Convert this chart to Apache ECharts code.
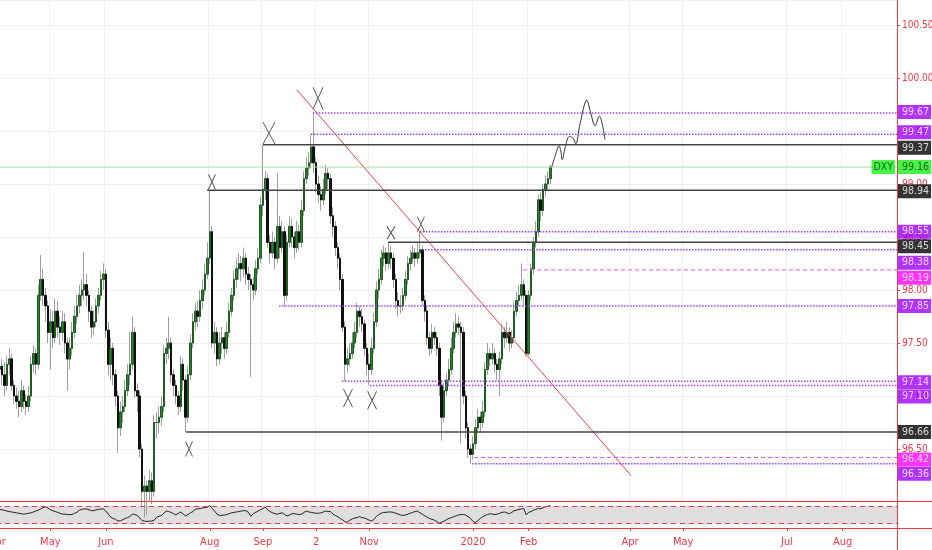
<!DOCTYPE html>
<html>
<head>
<meta charset="utf-8">
<script src="https://cdn.jsdelivr.net/npm/echarts@6/dist/echarts.min.js"></script>
<style>
html, body { margin: 0; padding: 0; background: #fff; }
#chart { width: 932px; height: 550px; }
</style>
</head>
<body>
<div id="chart"></div>
<script>
// DXY daily, Apr 2019 - mid Feb 2020, one row per day: [open, close, low, high]
var candles = [
  [97.2,97.25,97.05,97.4],[97.25,97.28,97.15,97.45],[97.28,97.2,97.1,97.35],[97.2,97.1,97.0,97.32],[97.1,97.3,97.05,97.38],
  [97.3,97.35,97.2,97.45],[97.35,97.1,97.05,97.4],[97.1,97.0,96.92,97.15],[97.0,96.95,96.88,97.08],[96.95,96.9,96.8,97.05],
  [96.9,97.05,96.85,97.15],[97.05,96.95,96.88,97.1],[96.95,96.9,96.82,97.02],[96.9,97.0,96.85,97.1],[97.0,97.3,96.95,97.38],
  [97.3,97.4,97.22,97.48],[97.4,97.3,97.2,97.45],[97.3,97.95,97.25,98.05],[97.95,98.1,97.9,98.33],[98.1,97.95,97.85,98.2],
  [97.95,97.85,97.7,98.02],[97.85,97.6,97.5,97.9],[97.6,97.7,97.25,97.82],[97.7,97.55,97.45,97.8],[97.55,97.8,97.5,97.92],
  [97.8,97.65,97.55,97.9],[97.65,97.6,97.48,97.75],[97.6,97.7,97.52,97.8],[97.7,97.5,97.4,97.78],[97.5,97.35,97.05,97.55],
  [97.35,97.45,97.25,97.55],[97.45,97.6,97.38,97.7],[97.6,97.75,97.55,97.85],[97.75,97.85,97.68,97.95],[97.85,97.95,97.78,98.05],
  [97.95,98.0,97.85,98.1],[98.0,98.05,97.9,98.36],[98.05,97.95,97.85,98.15],[97.95,97.8,97.7,98.0],[97.8,97.65,97.55,97.85],
  [97.65,97.7,97.58,97.8],[97.7,97.85,97.65,97.92],[97.85,97.95,97.78,98.02],[97.95,98.1,97.9,98.18],[98.1,98.15,98.0,98.25],
  [98.15,97.62,97.55,98.2],[97.62,97.3,97.2,97.7],[97.3,97.45,97.15,97.55],[97.45,97.2,97.1,97.5],[97.2,97.0,96.9,97.25],
  [97.0,96.7,96.46,97.05],[96.7,96.85,96.62,96.95],[96.85,96.9,96.75,97.0],[96.9,97.05,96.85,97.15],[97.05,97.2,97.0,97.3],
  [97.2,97.3,97.1,97.6],[97.3,97.6,97.25,97.75],[97.6,97.05,96.98,97.65],[97.05,97.0,96.85,97.12],[97.0,96.5,96.42,97.05],
  [96.5,96.1,95.95,96.55],[96.1,96.15,95.85,96.25],[96.15,96.1,95.88,96.2],[96.1,96.2,96.0,96.3],[96.2,96.1,95.98,96.28],
  [96.1,96.75,96.05,96.82],[96.75,96.75,96.6,96.85],[96.75,96.8,96.65,96.9],[96.8,96.9,96.72,97.0],[96.9,97.4,96.85,97.48],
  [97.4,97.45,97.3,97.55],[97.45,97.5,97.35,97.75],[97.5,97.2,97.12,97.55],[97.2,97.1,97.0,97.25],[97.1,97.0,96.92,97.15],
  [97.0,96.9,96.82,97.05],[96.9,97.3,96.85,97.38],[97.3,97.15,97.05,97.35],[97.15,96.8,96.66,97.2],[96.8,97.2,96.75,97.28],
  [97.2,97.5,97.15,97.58],[97.5,97.7,97.45,97.78],[97.7,97.8,97.62,97.88],[97.8,97.75,97.65,97.9],[97.75,97.9,97.7,98.0],
  [97.9,98.0,97.82,98.1],[98.0,98.15,97.95,98.25],[98.15,98.3,98.1,98.45],[98.3,98.55,98.25,98.94],[98.55,97.5,97.45,98.6],
  [97.5,97.6,97.4,97.7],[97.6,97.35,97.28,97.65],[97.35,97.5,97.3,97.6],[97.5,97.55,97.4,97.65],[97.55,97.45,97.35,97.6],
  [97.45,97.6,97.4,97.7],[97.6,97.8,97.55,97.88],[97.8,97.95,97.75,98.02],[97.95,98.1,97.9,98.18],[98.1,98.2,98.02,98.3],
  [98.2,98.25,98.1,98.35],[98.25,98.2,98.08,98.32],[98.2,98.3,98.12,98.4],[98.3,98.15,98.05,98.35],[98.15,98.1,98.0,98.22],
  [98.1,98.05,97.18,98.15],[98.05,98.0,97.9,98.12],[98.0,98.2,97.95,98.28],[98.2,98.3,98.15,98.4],[98.3,98.8,98.25,98.88],
  [98.8,98.95,98.7,99.37],[98.95,99.05,98.85,99.12],[99.05,98.45,98.4,99.1],[98.45,98.35,98.25,98.52],[98.35,98.45,98.3,98.55],
  [98.45,98.3,98.2,98.5],[98.3,98.6,98.25,99.1],[98.6,98.4,98.3,98.7],[98.4,98.55,98.35,98.65],[98.55,97.95,97.85,98.6],
  [97.95,98.45,97.9,98.52],[98.45,98.6,98.4,98.7],[98.6,98.5,98.4,98.68],[98.5,98.4,98.3,98.55],[98.4,98.55,98.35,98.65],
  [98.55,98.45,98.38,98.62],[98.45,98.75,98.4,98.85],[98.75,99.05,98.7,99.12],[99.05,99.15,99.0,99.25],[99.15,99.2,99.08,99.3],
  [99.2,99.35,99.15,99.47],[99.35,99.2,99.1,99.67],[99.2,99.0,98.92,99.25],[99.0,98.9,98.82,99.08],[98.9,98.85,98.75,98.98],
  [98.85,98.95,98.8,99.05],[98.95,99.1,98.9,99.18],[99.1,99.05,98.95,99.15],[99.05,98.7,98.62,99.1],[98.7,98.6,98.5,98.78],
  [98.6,98.4,98.32,98.65],[98.4,98.3,98.2,98.45],[98.3,98.1,98.0,98.35],[98.1,97.65,97.6,98.15],[97.65,97.3,97.14,97.7],
  [97.3,97.35,97.22,97.45],[97.35,97.4,97.28,97.5],[97.4,97.5,97.35,97.6],[97.5,97.6,97.45,97.7],[97.6,97.8,97.55,97.88],
  [97.8,97.75,97.65,97.85],[97.75,97.68,97.6,97.82],[97.68,97.45,97.38,97.72],[97.45,97.3,97.2,97.5],[97.3,97.25,97.1,97.4],
  [97.25,97.45,97.2,97.55],[97.45,97.7,97.4,97.78],[97.7,98.0,97.65,98.08],[98.0,98.1,97.92,98.2],[98.1,98.3,98.05,98.38],
  [98.3,98.35,98.22,98.42],[98.35,98.25,98.18,98.4],[98.25,98.35,98.2,98.45],[98.35,98.3,98.2,98.42],[98.3,98.1,98.02,98.35],
  [98.1,97.9,97.82,98.15],[97.9,97.85,97.75,97.98],[97.85,97.85,97.78,97.95],[97.85,97.95,97.8,98.02],[97.95,98.1,97.9,98.18],
  [98.1,98.25,98.05,98.32],[98.25,98.3,98.18,98.38],[98.3,98.35,98.25,98.42],[98.35,98.3,98.22,98.4],[98.3,98.35,98.25,98.45],
  [98.35,98.38,98.3,98.55],[98.38,97.9,97.85,98.42],[97.9,97.8,97.7,97.95],[97.8,97.55,97.48,97.85],[97.55,97.45,97.38,97.6],
  [97.45,97.6,97.4,97.68],[97.6,97.55,97.48,97.65],[97.55,97.45,97.38,97.6],[97.45,97.1,97.0,97.5],[97.1,96.8,96.58,97.15],
  [96.8,97.05,96.75,97.12],[97.05,97.15,97.0,97.22],[97.15,97.25,97.1,97.35],[97.25,97.45,97.2,97.55],[97.45,97.6,97.4,97.7],
  [97.6,97.68,97.55,97.78],[97.68,97.65,97.58,97.75],[97.65,97.6,96.55,97.7],[97.6,97.0,96.92,97.65],[97.0,96.7,96.6,97.05],
  [96.7,96.5,96.42,96.75],[96.5,96.45,96.36,96.55],[96.45,96.55,96.4,96.62],[96.55,96.7,96.5,96.78],[96.7,96.8,96.65,96.88],
  [96.8,96.75,96.65,96.85],[96.75,96.85,96.7,96.95],[96.85,97.25,96.8,97.32],[97.25,97.4,97.2,97.5],[97.4,97.35,97.28,97.45],
  [97.35,97.4,97.3,97.5],[97.4,97.3,97.22,97.45],[97.3,97.25,97.15,97.35],[97.25,97.35,97.0,97.42],[97.35,97.6,97.3,97.68],
  [97.6,97.55,97.45,97.65],[97.55,97.6,97.5,97.7],[97.6,97.5,97.42,97.65],[97.5,97.55,97.45,97.62],[97.55,97.8,97.5,97.88],
  [97.8,97.9,97.75,97.98],[97.9,97.95,97.85,98.05],[97.95,98.05,97.9,98.25],[98.05,97.95,97.85,98.1],[97.95,97.4,97.37,98.0],
  [97.4,97.95,97.38,98.0],[97.95,98.2,97.9,98.25],[98.2,98.45,98.15,98.5],[98.45,98.55,98.4,98.65],[98.55,98.85,98.5,98.9],
  [98.85,98.75,98.65,98.92],[98.75,98.95,98.7,99.0],[98.95,99.0,98.88,99.08],[99.0,99.05,98.95,99.12],[99.05,99.16,99.0,99.18]
];

var rsi = [
  63,63,62,61,59,58,57,56,55,54, 53,52,53,54,55,57,59,61,64,67,
  69,66,62,60,58,56,54,52,52,51, 51,51,54,56,61,63,64,64,62,60,
  60,62,63,64,64,59,52,45,42,40, 36,37,39,42,44,47,52,51,49,43,
  37,36,35,36,36,38,45,47,49,54, 59,58,56,53,50,54,57,52,48,51,
  55,58,63,64,65,66,67,68,72,65, 59,52,49,49,50,51,53,55,56,57,
  58,59,60,60,56,47,53,56,59,62, 65,68,62,58,55,53,52,54,55,51,
  48,50,53,53,52,51,52,56,59,57, 56,55,54,54,55,57,59,58,58,52,
  49,46,42,39,34,34,38,41,43,44, 46,44,43,41,38,36,40,47,51,54,
  56,56,57,57,56,54,52,50,49,50, 52,54,56,58,59,55,52,48,45,42,
  40,38,35,31,33,36,39,42,44,46, 48,50,51,51,50,46,42,35,33,37,
  42,46,49,51,53,52,51,52,54,56, 57,55,53,56,60,61,63,64,65,50,
  56,58,61,63,65,64,67,69,70,72
];

// day slots on the time axis (history + empty future space)
var slotCount = 373;
var tickLabels = [[0,'Apr'],[22,'May'],[45,'Jun'],[88,'Aug'],[110,'Sep'],[132,'2'],[154,'Nov'],
                  [197,'2020'],[220,'Feb'],[262,'Apr'],[284,'May'],[327,'Jul'],[350,'Aug']];

// drawn horizontal levels: price, day where the line starts, kind
var levelPrices = [99.67, 99.47, 99.37, 98.94, 98.55, 98.45, 98.38, 98.19, 97.85, 97.14, 97.10, 96.66, 96.42, 96.36];
var levelStarts = [130.7, 129.9, 110, 86.9, 175, 161.8, 175.9, 217.7, 116.7, 142.7, 154.3, 78.2, 197.4, 196.6];
var levelKinds  = ['purple','purple','black','black','purple','black','purple','pink','purple','purple','purple','black','pink','purple'];
var lastPrice = 99.16;

// other drawings: falling trend line, hand-drawn projection, X marks
var trendLine = [[124.0, 99.89], [262.4, 96.25]];
var projection = [[229.6,99.16],[230.9,99.26],[232.6,99.36],[233.4,99.30],[233.9,99.23],[235.1,99.34],[236.9,99.45],
                  [238.5,99.43],[239.5,99.38],[241.3,99.57],[244.1,99.79],[245.7,99.67],[247.5,99.55],[249.3,99.64],
                  [250.7,99.54],[251.6,99.42]];
var xMarks = [[88.9,99.02],[112.5,99.48],[132.8,99.81],[79.4,96.50],[145.2,96.98],[155.2,96.96],[163.0,98.54],[175.4,98.62]];

// layout: symbol sizes of the X marks, vertical nudge of price tags so they do not overlap
var xMarkSizes = [[7,15],[12,22],[10,22],[7,15],[9,18],[9,18],[8,13],[7,15]];
var tagShift = [-1, -2, 3, 1, 0, 4, 13, 8, 0, 1, 11, 0, 2, 10];

var red = '#f23645';
var narrow = "'DejaVu Sans Condensed', 'Liberation Sans Narrow', sans-serif";
var kindStyle = {
  purple: { line: '#a33cf2', tag: '#9c00ff', type: [1.5, 1.5], width: 1.5 },
  black:  { line: '#444444', tag: '#000000', type: 'solid', width: 1.5 },
  pink:   { line: '#ee55ee', tag: '#ff00ff', type: [4, 3], width: 1 }
};

var labelAt = {};
tickLabels.forEach(function (t) { labelAt[t[0]] = t[1]; });
var slots = [];
for (var i = 0; i < slotCount; i++) slots.push(String(i));
var showTick = function (idx) { return labelAt[idx] !== undefined; };
var rightEdge = slotCount - 0.5;

var bodies = candles.map(function (c) {
  return [c[0], c[1], Math.min(c[0], c[1]), Math.max(c[0], c[1])];
});

function tagLabel(bg, fg, dy) {
  return { show: true, position: 'right', distance: 1, offset: [0, dy], backgroundColor: bg, color: fg,
           fontFamily: narrow, fontSize: 10.5, padding: [2, 2, 1, 4] };
}

var series = [
  {
    type: 'candlestick', xAxisIndex: 0, yAxisIndex: 0, data: candles, barWidth: 2,
    itemStyle: { color: '#9e9e9e', color0: '#9e9e9e', borderColor: '#9e9e9e', borderColor0: '#9e9e9e', borderWidth: 1 }
  },
  {
    type: 'candlestick', xAxisIndex: 0, yAxisIndex: 0, data: bodies, barWidth: 2,
    itemStyle: { color: '#2e7d32', color0: '#111111', borderColor: '#1b5e20', borderColor0: '#111111', borderWidth: 1 }
  },
  {
    type: 'line', xAxisIndex: 1, yAxisIndex: 0, symbol: 'none',
    data: [[-0.5, lastPrice], [rightEdge, lastPrice]],
    lineStyle: { color: '#9fe39f', width: 1 }
  },
  {
    type: 'line', xAxisIndex: 1, yAxisIndex: 0, symbol: 'none', data: trendLine,
    lineStyle: { color: '#f0404a', width: 1 }
  },
  {
    type: 'line', xAxisIndex: 1, yAxisIndex: 0, symbol: 'none', smooth: 0.35, data: projection,
    lineStyle: { color: '#333', width: 1 }
  },
  {
    type: 'scatter', xAxisIndex: 1, yAxisIndex: 0,
    symbol: 'path://M0,0L10,20M10,0L0,20', symbolKeepAspect: false,
    data: xMarks.map(function (m, k) { return { value: m, symbolSize: xMarkSizes[k] }; }),
    itemStyle: { color: 'rgba(0,0,0,0)', borderColor: '#222', borderWidth: 1 }
  },
  {
    type: 'line', xAxisIndex: 2, yAxisIndex: 1, symbol: 'none', data: rsi,
    lineStyle: { color: '#222', width: 1 },
    markArea: { silent: true, itemStyle: { color: 'rgba(195,195,195,0.55)' }, data: [[{ yAxis: 30 }, { yAxis: 70 }]] },
    markLine: { silent: true, symbol: 'none', label: { show: false },
                lineStyle: { color: red, type: [5, 4], width: 1 }, data: [{ yAxis: 30 }, { yAxis: 70 }] }
  }
];

levelPrices.forEach(function (p, k) {
  var st = kindStyle[levelKinds[k]];
  series.push({
    type: 'line', xAxisIndex: 1, yAxisIndex: 0, symbol: 'none', z: 4,
    data: [[levelStarts[k], p], [rightEdge, p]],
    lineStyle: { color: st.line, width: st.width, type: st.type }
  });
});

// price tags on the axis
var tagData = levelPrices.map(function (p, k) {
  var st = kindStyle[levelKinds[k]];
  return { value: [rightEdge, p], label: Object.assign(tagLabel(st.tag, '#fff', tagShift[k]), { formatter: p.toFixed(2) }) };
});
tagData.push({ value: [rightEdge, lastPrice], label: Object.assign(tagLabel('#19f019', '#0d3d0d', 0), { formatter: lastPrice.toFixed(2) }) });
var dxy = tagLabel('#19f019', '#0d3d0d', 0);
dxy.position = 'left'; dxy.distance = 2; dxy.formatter = 'DXY'; dxy.padding = [2, 2, 1, 2];
tagData.push({ value: [rightEdge, lastPrice], label: dxy });
series.push({ type: 'scatter', xAxisIndex: 1, yAxisIndex: 0, symbolSize: 0, z: 20, data: tagData });

var chart = echarts.init(document.getElementById('chart'));
var option = {
  animation: false,
  backgroundColor: '#fff',
  grid: [
    { left: -4, right: 35, top: 0, height: 502, outerBoundsMode: 'none', containLabel: false },
    { left: -4, right: 35, top: 502, height: 26, outerBoundsMode: 'none', containLabel: false }
  ],
  xAxis: [
    { type: 'category', gridIndex: 0, data: slots, boundaryGap: true,
      axisLine: { show: false, onZero: false }, axisTick: { show: false }, axisLabel: { show: false },
      splitLine: { show: true, interval: showTick, lineStyle: { color: '#eef0f4' } } },
    { type: 'value', gridIndex: 0, min: -0.5, max: rightEdge, show: false, axisLine: { onZero: false } },
    { type: 'category', gridIndex: 1, data: slots, boundaryGap: true,
      axisLine: { show: false, onZero: false },
      axisTick: { show: true, interval: showTick, alignWithLabel: true, length: 3, lineStyle: { color: red } },
      axisLabel: { interval: showTick, formatter: function (v, idx) { return labelAt[idx] || ''; },
                   color: red, fontSize: 11, fontFamily: narrow, margin: 9 },
      splitLine: { show: false } }
  ],
  yAxis: [
    { type: 'value', gridIndex: 0, position: 'right', min: 96, max: 100.736, interval: 0.5,
      axisLine: { show: false, onZero: false },
      axisTick: { show: true, length: 3, lineStyle: { color: red } },
      axisLabel: { color: red, fontSize: 10, fontFamily: narrow, margin: 5, showMinLabel: false, showMaxLabel: false,
                   formatter: function (v) { return v.toFixed(2); } },
      splitLine: { show: true, lineStyle: { color: '#eef0f4' } } },
    { type: 'value', gridIndex: 1, position: 'right', min: 20, max: 80, show: false, axisLine: { onZero: false } }
  ],
  graphic: [
    { type: 'line', z: 100, shape: { x1: 897.5, y1: 0, x2: 897.5, y2: 550 }, style: { stroke: red, lineWidth: 1 } },
    { type: 'line', z: 100, shape: { x1: 0, y1: 501.5, x2: 932, y2: 501.5 }, style: { stroke: red, lineWidth: 1 } },
    { type: 'line', z: 100, shape: { x1: 0, y1: 528.5, x2: 932, y2: 528.5 }, style: { stroke: red, lineWidth: 1 } }
  ],
  series: series
};
chart.setOption(option);
</script>
</body>
</html>
